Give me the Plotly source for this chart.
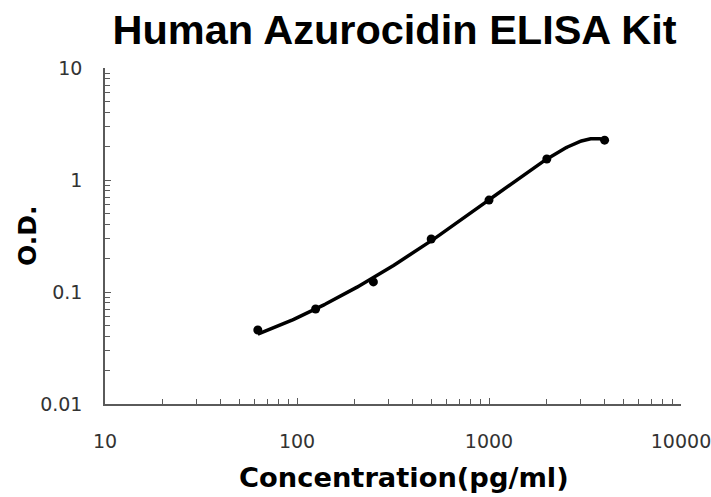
import numpy as np
import plotly.graph_objects as go

concentration = [62.5, 125, 250, 500, 1000, 2000, 4000]
od = [0.0458, 0.0705, 0.123, 0.297, 0.662, 1.54, 2.27]

x_tickvals = [10, 100, 1000, 10000]
x_ticktext = ["10", "100", "1000", "10000"]
y_tickvals = [0.01, 0.1, 1, 10]
y_ticktext = ["0.01", "0.1", "1", "10"]

# trendline: cubic polynomial fit of the measured points
coef = np.polyfit(concentration, od, 3)
fx = np.logspace(np.log10(min(concentration)), np.log10(max(concentration)), 300)
fy = np.polyval(coef, fx)

fig = go.Figure()
fig.add_trace(go.Scatter(x=fx, y=fy, mode="lines",
                         line=dict(color="black", width=3.5), hoverinfo="skip"))
fig.add_trace(go.Scatter(x=concentration, y=od, mode="markers",
                         marker=dict(color="black", size=9)))

axis_common = dict(
    type="log", showgrid=False, zeroline=False, automargin=False,
    showline=True, linecolor="#5a5a5a", linewidth=1.5,
    ticks="inside", ticklen=6, tickwidth=1, tickcolor="#5a5a5a",
    minor=dict(ticks="inside", ticklen=5, tickwidth=1, tickcolor="#5a5a5a", dtick="D1", showgrid=False),
    tickfont=dict(family="DejaVu Sans", size=19, color="#333333"),
    ticklabeloverflow="allow",
)

fig.update_layout(
    width=711, height=497,
    margin=dict(l=105, r=30, t=68, b=93),
    paper_bgcolor="white", plot_bgcolor="white",
    showlegend=False,
    title=dict(text="<b>Human Azurocidin ELISA Kit</b>", x=0.555, xanchor="center",
               y=0.941, yanchor="middle",
               font=dict(family="Liberation Sans, Arial", size=41.5, color="black")),
    xaxis=dict(axis_common, range=[1, 4], tickvals=x_tickvals, ticktext=x_ticktext,
               ticklabelstandoff=19),
    yaxis=dict(axis_common, range=[-2, 1], tickvals=y_tickvals, ticktext=y_ticktext,
               ticklabelstandoff=17),
    annotations=[
        dict(text="<b>Concentration(pg/ml)</b>", xref="paper", yref="paper",
             x=0.519, y=-0.220, xanchor="center", yanchor="middle", showarrow=False,
             font=dict(family="DejaVu Sans", size=27.3, color="black")),
        dict(text="<b>O.D.</b>", xref="paper", yref="paper", textangle=-90,
             x=-0.1354, y=0.5, xanchor="center", yanchor="middle", showarrow=False,
             font=dict(family="DejaVu Sans", size=25, color="black")),
    ],
)

fig.write_html("out.html", post_script="document.body.style.margin='0';",
               config={"displayModeBar": False})
